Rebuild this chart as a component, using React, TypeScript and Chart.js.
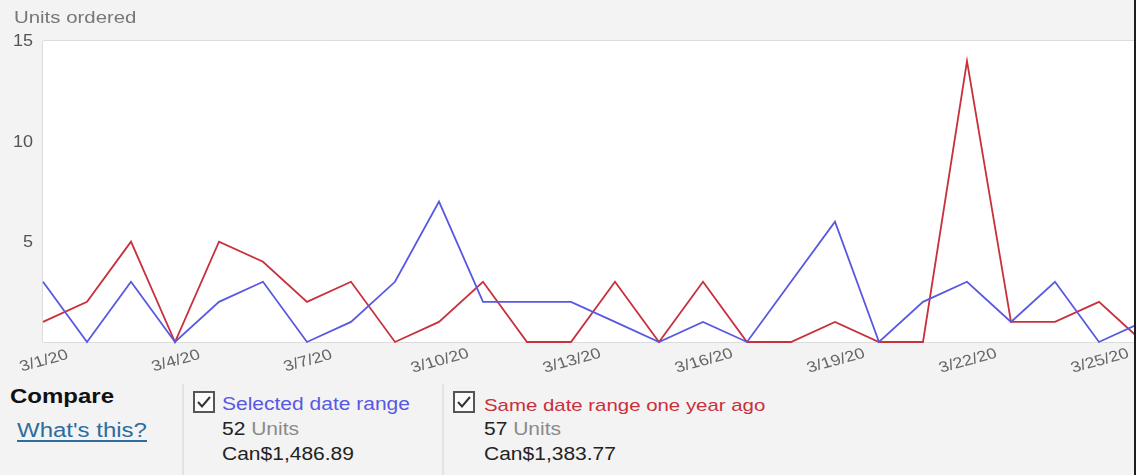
import React, { useEffect, useRef } from "react";
import { Chart, registerables } from "chart.js";

Chart.register(...registerables);

// ---- data ----
const dateLabels = [
  "3/1/20", "3/2/20", "3/3/20", "3/4/20", "3/5/20", "3/6/20", "3/7/20",
  "3/8/20", "3/9/20", "3/10/20", "3/11/20", "3/12/20", "3/13/20", "3/14/20",
  "3/15/20", "3/16/20", "3/17/20", "3/18/20", "3/19/20", "3/20/20", "3/21/20",
  "3/22/20", "3/23/20", "3/24/20", "3/25/20", "3/26/20",
];
const selectedUnits = [3, 0, 3, 0, 2, 3, 0, 1, 3, 7, 2, 2, 2, 1, 0, 1, 0, 3, 6, 0, 2, 3, 1, 3, 0, 1];
const lastYearUnits = [1, 2, 5, 0, 5, 4, 2, 3, 0, 1, 3, 0, 0, 3, 0, 3, 0, 0, 1, 0, 0, 14, 1, 1, 2, 0];
const xTickEvery = 3;
const yTicks = [5, 10, 15];
const yMax = 15;

const FONT = '"Liberation Sans", Arial, Helvetica, sans-serif';
const SX = 1.2; // horizontal stretch of the reference screenshot text
const BLUE = "#5858e2";
const RED = "#c8303c";

const CANVAS_W = 1160;
const CANVAS_H = 380;

const decorPlugin = {
  id: "decor",
  beforeDraw(chart: any) {
    const { ctx, chartArea: a } = chart;
    ctx.save();
    ctx.fillStyle = "#f3f3f3";
    ctx.fillRect(0, 0, chart.width, chart.height);
    ctx.fillStyle = "#ffffff";
    ctx.fillRect(a.left, a.top, a.right - a.left, a.bottom - a.top);
    ctx.strokeStyle = "#dcdcdc";
    ctx.lineWidth = 1;
    ctx.beginPath();
    ctx.moveTo(a.left, a.top - 0.5);
    ctx.lineTo(a.right + 20, a.top - 0.5);
    ctx.moveTo(a.left - 0.5, a.top);
    ctx.lineTo(a.left - 0.5, a.bottom);
    ctx.moveTo(a.left, a.bottom + 0.5);
    ctx.lineTo(a.right + 20, a.bottom + 0.5);
    ctx.stroke();
    ctx.restore();
  },
  afterDraw(chart: any) {
    const { ctx } = chart;
    const xs = chart.scales.x;
    const ys = chart.scales.y;
    ctx.save();
    // y tick labels
    ctx.fillStyle = "#555555";
    ctx.font = `15px ${FONT}`;
    ctx.textBaseline = "middle";
    ctx.textAlign = "right";
    yTicks.forEach((v) => {
      const y = ys.getPixelForValue(v) + 1;
      ctx.save();
      ctx.translate(33, y);
      ctx.scale(SX, 1.08);
      ctx.fillText(String(v), 0, 0);
      ctx.restore();
    });
    // x tick labels (rotated)
    ctx.fillStyle = "#666666";
    ctx.textAlign = "center";
    dateLabels.forEach((lab, i) => {
      if (i % xTickEvery !== 0) return;
      const x = xs.getPixelForValue(i) + 1;
      ctx.save();
      ctx.translate(x, 361);
      ctx.scale(SX, 1);
      ctx.rotate((-18 * Math.PI) / 180);
      ctx.fillText(lab, 0, 0);
      ctx.restore();
    });
    ctx.restore();
  },
};

function Txt(props: {
  x: number;
  baseline: number;
  size: number;
  color?: string;
  bold?: boolean;
  underline?: boolean;
  children: React.ReactNode;
}) {
  const { x, baseline, size, color, bold, underline, children } = props;
  return (
    <div
      style={{
        position: "absolute",
        left: x,
        top: baseline - 0.8465 * size,
        fontSize: size,
        lineHeight: `${size}px`,
        fontFamily: FONT,
        fontWeight: bold ? 700 : 400,
        color: color || "#222",
        textDecoration: underline ? "underline" : "none",
        textUnderlineOffset: 3,
        whiteSpace: "nowrap",
        transform: `scaleX(${SX})`,
        transformOrigin: "left top",
      }}
    >
      {children}
    </div>
  );
}

function CheckBox({ x, y }: { x: number; y: number }) {
  return (
    <svg
      width={22}
      height={22}
      style={{ position: "absolute", left: x, top: y }}
      viewBox="0 0 22 22"
    >
      <rect x={1} y={1} width={20} height={20} fill="#fbfbfb" stroke="#555" strokeWidth={2} />
      <polyline points="5,11 9,15.5 17,6" fill="none" stroke="#333" strokeWidth={2} />
    </svg>
  );
}

export default function App() {
  const canvasRef = useRef<HTMLCanvasElement | null>(null);

  useEffect(() => {
    const canvas = canvasRef.current;
    if (!canvas) return;
    const chart = new Chart(canvas, {
      type: "line",
      data: {
        labels: dateLabels,
        datasets: [
          {
            label: "Selected date range",
            data: selectedUnits,
            borderColor: BLUE,
            borderWidth: 1.8,
            pointRadius: 0,
            tension: 0,
            fill: false,
            clip: false,
          },
          {
            label: "Same date range one year ago",
            data: lastYearUnits,
            borderColor: RED,
            borderWidth: 1.8,
            pointRadius: 0,
            tension: 0,
            fill: false,
            clip: false,
          },
        ],
      },
      options: {
        responsive: false,
        animation: false,
        devicePixelRatio: 1,
        layout: {
          padding: { left: 43, top: 41, right: CANVAS_W - 1143, bottom: CANVAS_H - 342 },
        },
        plugins: {
          legend: { display: false },
          tooltip: { enabled: false },
          title: { display: false },
        },
        scales: {
          x: { type: "category", display: false, offset: false },
          y: { display: false, min: 0, max: yMax },
        },
      },
      plugins: [decorPlugin],
    });
    return () => chart.destroy();
  }, []);

  return (
    <div
      style={{
        position: "fixed",
        left: 0,
        top: 0,
        width: 1145,
        height: 475,
        background: "#ffffff",
        overflow: "hidden",
      }}
    >
      <div
        style={{
          position: "absolute",
          left: 0,
          top: 0,
          width: 1134,
          height: 475,
          background: "#f3f3f3",
          overflow: "hidden",
        }}
      >
        <canvas
          ref={canvasRef}
          width={CANVAS_W}
          height={CANVAS_H}
          style={{ position: "absolute", left: 0, top: 0, width: CANVAS_W, height: CANVAS_H }}
        />
        <Txt x={14} baseline={23} size={17} color="#777">
          Units ordered
        </Txt>

        <Txt x={10} baseline={403} size={20} bold color="#111">
          Compare
        </Txt>
        <Txt x={17} baseline={437} size={20} color="#2f6c9c" underline>
          What's this?
        </Txt>

        <div style={{ position: "absolute", left: 182, top: 384, width: 2, height: 91, background: "#e3e3e3" }} />
        <CheckBox x={193} y={391} />
        <Txt x={222} baseline={411} size={17.5} color={BLUE}>
          Selected date range
        </Txt>
        <Txt x={222} baseline={436} size={17.5}>
          52 <span style={{ color: "#8a8a8a" }}>Units</span>
        </Txt>
        <Txt x={222} baseline={461} size={17.5}>
          Can$1,486.89
        </Txt>

        <div style={{ position: "absolute", left: 442, top: 384, width: 2, height: 91, background: "#e3e3e3" }} />
        <CheckBox x={453} y={391} />
        <Txt x={484} baseline={411} size={17} color={RED}>
          Same date range one year ago
        </Txt>
        <Txt x={484} baseline={436} size={17.5}>
          57 <span style={{ color: "#8a8a8a" }}>Units</span>
        </Txt>
        <Txt x={484} baseline={461} size={17.5}>
          Can$1,383.77
        </Txt>
      </div>
      <div style={{ position: "absolute", left: 1134, top: 0, width: 2, height: 475, background: "#1e1e1e" }} />
    </div>
  );
}
